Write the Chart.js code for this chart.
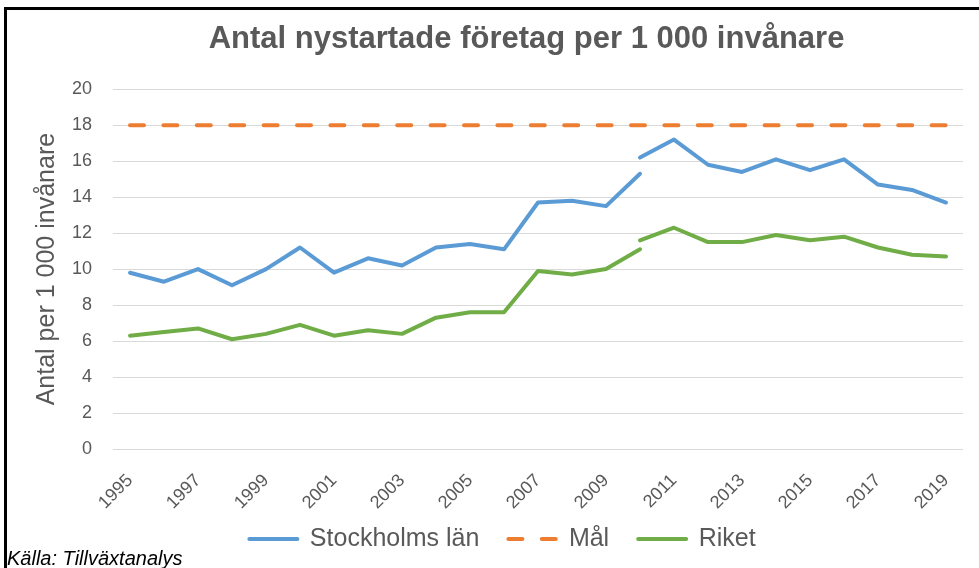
<!DOCTYPE html>
<html>
<head>
<meta charset="utf-8">
<script src="https://cdn.jsdelivr.net/npm/chart.js@4"></script>
<style>
  body { margin: 0; background: #fff; }
  #wrap { position: relative; width: 979px; height: 568px; overflow: hidden; }
  #ram { position: absolute; left: 4px; top: 7px; width: 1000px; height: 600px;
         border-top: 3px solid #000; border-left: 3px solid #000; }
  #chart { position: absolute; left: 0; top: 0; }
  #kalla { position: absolute; left: 7px; top: 547px; color: #000; line-height: 22px;
           font: italic 20px "Liberation Sans", sans-serif; }
</style>
</head>
<body>
<div id="wrap">
  <div id="ram"></div>
  <canvas id="chart" width="979" height="568"></canvas>
  <div id="kalla">Källa: Tillväxtanalys</div>
</div>
<script>
// år på x-axeln
const years = ["1995", "1996", "1997", "1998", "1999", "2000", "2001", "2002", "2003", "2004",
  "2005", "2006", "2007", "2008", "2009", "2010", "2011", "2012", "2013", "2014",
  "2015", "2016", "2017", "2018", "2019"];

// serien bryts 2010 (två värden det året)
const stockholmFore = [9.8, 9.3, 10.0, 9.1, 10.0, 11.2, 9.8, 10.6, 10.2, 11.2, 11.4, 11.1, 13.7, 13.8, 13.5, 15.3]; // 1995-2010
const stockholmEfter = [16.2, 17.2, 15.8, 15.4, 16.1, 15.5, 16.1, 14.7, 14.4, 13.7]; // 2010-2019
const riketFore = [6.3, 6.5, 6.7, 6.1, 6.4, 6.9, 6.3, 6.6, 6.4, 7.3, 7.6, 7.6, 9.9, 9.7, 10.0, 11.1];
const riketEfter = [11.6, 12.3, 11.5, 11.5, 11.9, 11.6, 11.8, 11.2, 10.8, 10.7];
const malVarden = [18, 18, 18, 18, 18, 18, 18, 18, 18, 18, 18, 18, 18, 18, 18, 18, 18, 18, 18, 18, 18, 18, 18, 18, 18];

const yMin = 0, yMax = 20, yStep = 2;

const FONT = '"Liberation Sans", sans-serif';
const GRA = '#595959';

// fyll ut med null så att segmenten hamnar på rätt år
function fore(vals) {
  return vals.concat(new Array(years.length - vals.length).fill(null));
}
function efter(vals) {
  return new Array(years.length - vals.length).fill(null).concat(vals);
}

function linje(label, data, color, extra) {
  return Object.assign({
    label: label,
    data: data,
    borderColor: color,
    backgroundColor: color,
    borderWidth: 4,
    pointRadius: 0,
    tension: 0,
    borderCapStyle: 'round',
    borderJoinStyle: 'round',
    spanGaps: false
  }, extra || {});
}

// flytta titel och förklaring lite (Excel centrerar dem annorlunda)
const flytta = {
  id: 'flytta',
  afterLayout(chart) {
    const t = chart.titleBlock;
    t.left += 41; t.right += 41;
    const l = chart.legend;
    l.left += 17; l.right += 17;
    l.top -= 19.5; l.bottom -= 19.5;
  }
};

const ctx = document.getElementById('chart').getContext('2d');
const chart = new Chart(ctx, {
  type: 'line',
  data: {
    labels: years,
    datasets: [
      linje('Stockholms län', fore(stockholmFore), '#5B9BD5'),
      linje('Mål', malVarden, '#ED7D31', { borderDash: [14, 19.4] }),
      linje('Riket', fore(riketFore), '#70AD47'),
      linje('Stockholms län', efter(stockholmEfter), '#5B9BD5'),
      linje('Riket', efter(riketEfter), '#70AD47')
    ]
  },
  plugins: [flytta],
  options: {
    responsive: false,
    animation: false,
    layout: { padding: { left: 8, right: 16, top: 8, bottom: -13 } },
    plugins: {
      tooltip: { enabled: false },
      title: {
        display: true,
        text: 'Antal nystartade företag per 1 000 invånare',
        color: GRA,
        font: { family: FONT, size: 31, weight: 'bold' },
        padding: { top: 13, bottom: 31 }
      },
      legend: {
        position: 'bottom',
        labels: {
          // linjestil (streckad) hämtas från datasetet
          generateLabels: (chart) => Chart.defaults.plugins.legend.labels.generateLabels(chart).map((item) => {
            const ds = chart.data.datasets[item.datasetIndex];
            item.lineDash = ds.borderDash || [];
            item.lineWidth = ds.borderWidth;
            item.lineCap = ds.borderCapStyle;
            item.strokeStyle = ds.borderColor;
            return item;
          }),
          filter: (item) => item.datasetIndex < 3,
          usePointStyle: true,
          pointStyle: 'line',
          pointStyleWidth: 48,
          color: GRA,
          font: { family: FONT, size: 25 },
          padding: 29
        }
      }
    },
    scales: {
      x: {
        offset: true,
        grid: { display: false },
        border: { display: false },
        ticks: {
          color: GRA,
          font: { family: FONT, size: 18 },
          autoSkip: false,
          maxRotation: 45,
          minRotation: 45,
          padding: 13,
          callback: (v, i) => (i % 2 === 0 ? years[i] : '')
        },
        afterFit: (scale) => { scale.height = 68; }
      },
      y: {
        min: yMin,
        max: yMax,
        grid: { color: '#d9d9d9', lineWidth: 1, drawTicks: false },
        border: { display: false },
        ticks: {
          stepSize: yStep,
          color: GRA,
          font: { family: FONT, size: 18 },
          padding: 21
        },
        title: {
          display: true,
          text: 'Antal per 1 000 invånare',
          color: GRA,
          font: { family: FONT, size: 25 },
          padding: { top: 24, bottom: 0 }
        },
        afterFit: (scale) => { scale.width = 105; }
      }
    }
  }
});
</script>
</body>
</html>
